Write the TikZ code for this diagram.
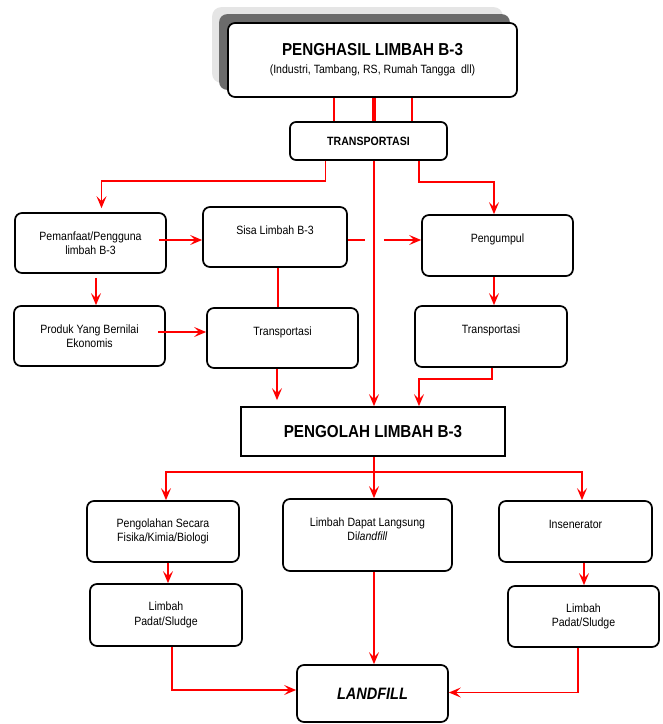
\documentclass[tikz,border=0pt]{standalone}
\usepackage{fontspec}
\setmainfont{Liberation Sans}[FakeStretch=0.88]
\usetikzlibrary{arrows.meta,backgrounds}

\definecolor{shadowlight}{gray}{0.9}
\definecolor{shadowdark}{gray}{0.42}

\tikzset{
  box/.style={draw, line width=1.7pt, rounded corners=7pt, fill=white,
    align=center, inner sep=2pt, font=\fontsize{12}{14.4}\selectfont},
  flow/.style={draw=red, line width=1.8pt},
  arr/.style={flow, -{Stealth[length=12pt,width=10pt,inset=5pt]}},
}

\begin{document}
\begin{tikzpicture}[x=1pt,y=-1pt]

\useasboundingbox (0,0) rectangle (663,724);
  \node[box, minimum width=289, minimum height=74] (n1) at (372.5,60)
    {{\fontsize{17.3}{20}\selectfont\bfseries PENGHASIL LIMBAH B-3}\\[4pt](Industri, Tambang, RS, Rumah Tangga\ \ dll)};
  \node[box, rounded corners=6pt, minimum width=157, minimum height=38, font=\fontsize{12}{14}\selectfont\bfseries] (n2) at (368.5,141) {TRANSPORTASI};
  \node[box, minimum width=151, minimum height=60] (n31) at (90.5,243) {Pemanfaat/Pengguna\\limbah B-3};
  \node[box, minimum width=144, minimum height=60] (n32) at (275,237) {Sisa Limbah B-3\\\mbox{}};
  \node[box, minimum width=151, minimum height=61] (n33) at (497.5,245.5) {Pengumpul\\\mbox{}};
  \node[box, minimum width=151, minimum height=60] (n41) at (89.5,336) {Produk Yang Bernilai\\Ekonomis};
  \node[box, minimum width=151, minimum height=60] (n42) at (282.5,338) {Transportasi\\\mbox{}};
  \node[box, minimum width=152, minimum height=61] (n43) at (491,336.5) {Transportasi\\\mbox{}};
  \node[box, rounded corners=0pt, minimum width=264, minimum height=49, font=\fontsize{17.3}{20}\selectfont\bfseries] (n5) at (373,431.5) {PENGOLAH LIMBAH B-3};
  \node[box, minimum width=152, minimum height=61] (n61) at (163,531.5) {Pengolahan Secara\\Fisika/Kimia/Biologi};
  \node[box, minimum width=169, minimum height=72] (n62) at (367.5,535) {Limbah Dapat Langsung\\Di\textit{landfill}\\[-2.4pt]\mbox{}};
  \node[box, minimum width=153, minimum height=61] (n63) at (575.5,531.5) {Insenerator\\\mbox{}};
  \node[box, minimum width=152, minimum height=62] (n71) at (166,615) {Limbah\\Padat/Sludge};
  \node[box, minimum width=151, minimum height=61] (n72) at (583.5,616.5) {Limbah\\Padat/Sludge};
  \node[box, minimum width=151, minimum height=57, font=\fontsize{16.5}{20}\selectfont\bfseries\itshape] (n8) at (372.5,693.5) {LANDFILL};

%shadow
\begin{scope}[on background layer]
  \fill[shadowlight, rounded corners=9pt] ([shift={(-15,-15)}]n1.south west) rectangle ([shift={(-15,-15)}]n1.north east);
  \fill[shadowdark, rounded corners=8pt] ([shift={(-8,-8)}]n1.south west) rectangle ([shift={(-8,-8)}]n1.north east);
\end{scope}

  \draw[flow] ([xshift=-34.5]n2.north) -- ([xshift=-34.5]n2.north |- n1.south);
  \draw[flow, line width=3.4pt] ([xshift=5.5]n2.north) -- ([xshift=5.5]n2.north |- n1.south);
  \draw[flow] ([xshift=43.5]n2.north) -- ([xshift=43.5]n2.north |- n1.south);
  \draw[arr] ([xshift=-43]n2.south) -- ++(0,20) -| ([xshift=11,yshift=4]n31.north);
  \draw[arr] ([xshift=5.5]n2.south) -- ([xshift=5.5]n2.south |- n5.north);
  \draw[arr] ([xshift=50.5]n2.south) -- ++(0,21) -| ([xshift=-3.5]n33.north);
  \draw[arr] ([xshift=-8,yshift=3]n31.east) -- ([yshift=3]n31.east -| n32.west);
  \draw[flow] ([yshift=-3]n32.east) -- ++(17,0);
  \draw[arr] ([xshift=36,yshift=-3]n32.east) -- ([yshift=-3]n32.east -| n33.west);
  \draw[arr] ([xshift=5.5,yshift=-4]n31.south) -- ([xshift=5.5]n31.south |- n41.north);
  \draw[arr] ([xshift=-8,yshift=4]n41.east) -- ([yshift=4]n41.east -| n42.west);
  \draw[flow] ([xshift=3]n32.south) -- ([xshift=3]n32.south |- n42.north);
  \draw[arr] ([xshift=-3.5]n33.south) -- ([xshift=-3.5]n33.south |- n43.north);
  \draw[arr, shorten >=6pt] ([xshift=-5.5]n42.south) -- ([xshift=-5.5]n42.south |- n5.north);
  \draw[arr] ([xshift=1]n43.south) -- ++(0,11) -| ([xshift=46]n5.north);
  \draw[arr] ([xshift=1]n5.south) -- ++(0,15) -| ([xshift=3]n61.north);
  \draw[arr] ([xshift=1]n5.south) -- ([xshift=1]n5.south |- n62.north);
  \draw[arr] ([xshift=1]n5.south) -- ++(0,15) -| ([xshift=6.5]n63.north);
  \draw[arr] ([xshift=5]n61.south) -- ([xshift=5]n61.south |- n71.north);
  \draw[arr] ([xshift=8.5]n63.south) -- ([xshift=8.5]n63.south |- n72.north);
  \draw[arr] ([xshift=6.5]n62.south) -- ([xshift=6.5]n62.south |- n8.north);
  \draw[arr] ([xshift=6]n71.south) |- ([yshift=3.5]n8.west);
  \draw[arr] ([xshift=-5.5]n72.south) |- ([yshift=1]n8.east);
 \end{tikzpicture}
\end{document}
